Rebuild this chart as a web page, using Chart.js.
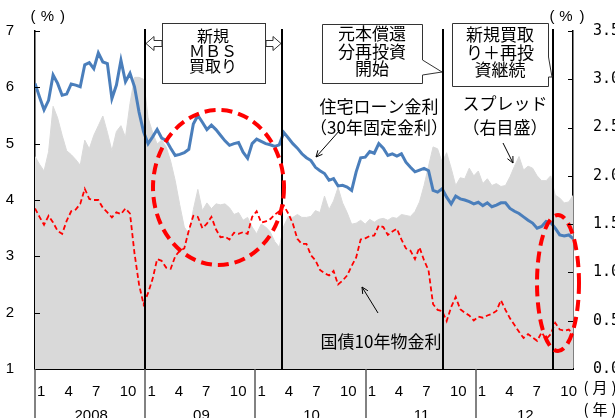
<!DOCTYPE html>
<html><head><meta charset="utf-8">
<script src="https://cdn.jsdelivr.net/npm/chart.js@4.4.1/dist/chart.umd.min.js"></script>
<style>html,body{margin:0;padding:0;background:#fff;}#wrap{width:615px;height:418px;position:relative;}</style>
</head><body><div id="wrap"><canvas id="c"></canvas></div>
<script>
// 住宅ローン金利（30年固定）, % (left axis), sampled every ~15 days from 2008-01
const mortgage = [
6.07,5.83,5.60,5.77,6.22,6.07,5.86,5.88,6.06,6.04,
6.01,6.40,6.44,6.33,6.61,6.45,6.42,5.80,6.04,6.48,
6.10,6.25,6.01,5.56,5.21,5.00,5.12,5.25,5.10,5.06,
4.92,4.79,4.81,4.84,4.90,5.35,5.50,5.38,5.25,5.33,
5.25,5.15,5.05,4.97,5.00,5.02,4.85,4.74,5.00,5.08,
5.04,5.00,4.98,4.95,4.98,5.20,5.10,5.00,4.92,4.82,
4.75,4.70,4.58,4.52,4.47,4.35,4.38,4.25,4.26,4.23,
4.17,4.50,4.75,4.76,4.86,4.83,5.00,4.92,4.79,4.82,
4.78,4.82,4.67,4.58,4.50,4.53,4.56,4.52,4.17,4.14,
4.20,4.05,3.93,4.07,4.02,4.00,3.97,3.93,3.96,3.90,
3.95,3.88,3.91,3.95,3.95,3.85,3.80,3.76,3.70,3.64,
3.59,3.50,3.53,3.62,3.60,3.50,3.38,3.36,3.38,3.31];
// 国債10年物金利, % (left axis)
const treasury10y = [
3.85,3.70,3.56,3.72,3.60,3.45,3.40,3.63,3.80,3.83,
3.93,4.20,4.02,4.00,4.00,3.86,3.78,3.69,3.78,3.75,
3.85,3.76,3.05,2.50,2.15,2.35,2.60,2.95,2.92,2.80,
2.78,3.00,3.10,3.14,3.46,3.72,3.70,3.50,3.58,3.70,
3.48,3.34,3.35,3.30,3.42,3.40,3.43,3.40,3.70,3.80,
3.60,3.62,3.66,3.74,3.80,3.90,3.76,3.58,3.31,3.22,
3.22,3.02,2.93,2.76,2.70,2.66,2.74,2.50,2.57,2.66,
2.83,2.98,3.30,3.32,3.36,3.37,3.55,3.52,3.38,3.44,
3.49,3.30,3.14,3.10,2.95,3.16,2.93,2.75,2.15,2.05,
2.03,1.85,2.10,2.28,2.06,2.00,1.95,1.86,1.93,1.91,
1.95,1.98,2.03,2.22,2.05,1.90,1.78,1.66,1.55,1.62,
1.56,1.50,1.65,1.53,1.62,1.82,1.70,1.68,1.70,1.62];
// スプレッド, % (right axis)
const spread = [
2.20,2.12,2.05,2.25,2.72,2.60,2.42,2.26,2.22,2.17,
2.11,2.37,2.28,2.42,2.52,2.62,2.45,2.26,2.46,2.52,
2.40,2.75,3.02,3.02,3.00,2.60,2.45,2.33,2.37,2.30,
2.15,1.95,1.70,1.47,1.40,1.65,1.86,1.64,1.72,1.66,
1.71,1.70,1.71,1.67,1.60,1.62,1.54,1.57,1.47,1.40,
1.50,1.47,1.42,1.32,1.26,1.48,1.58,1.57,1.60,1.57,
1.57,1.58,1.64,1.62,1.79,1.65,1.74,1.88,1.72,1.62,
1.50,1.51,1.54,1.50,1.55,1.52,1.55,1.56,1.54,1.57,
1.56,1.60,1.59,1.58,1.63,1.73,1.90,2.10,2.30,2.28,
2.14,2.24,2.08,1.90,1.98,1.97,2.08,2.00,2.05,1.92,
1.97,1.90,1.92,1.89,1.90,1.99,2.10,2.20,2.06,2.10,
2.08,2.00,1.95,1.95,2.00,1.80,1.77,1.72,1.73,1.80];

const startDate = [2008, 1, 1];
const stepDays = 15;
const endDate = [2012, 11, 19];
const years = [2008, 2009, 2010, 2011, 2012];
const yearLabels = ['2008', '09', '10', '11', '12'];
const tickMonths = [1, 4, 7, 10];
const monthLabels = ['1', '4', '7', '10'];
const eventDates = [[2009,1,1],[2010,3,31],[2011,9,15],[2012,9,13]];
const leftTicks = [1,2,3,4,5,6,7];
const rightTicks = [0,0.5,1,1.5,2,2.5,3,3.5];

const dayOf = (y,m,d) => (Date.UTC(y,m-1,d) - Date.UTC(startDate[0],startDate[1]-1,startDate[2])) / 864e5;
const xDays = mortgage.map((_, i) => i * stepDays);
const endDay = dayOf(...endDate);
const monthTicks = [];
years.forEach(y => tickMonths.forEach((m, k) => monthTicks.push({value: dayOf(y,m,1) + 7, label: monthLabels[k]})));
const pts = arr => arr.map((v, i) => ({x: xDays[i], y: v}));

const JP = '"Noto Sans CJK JP", "Noto Sans", sans-serif';
const NUM = '"Liberation Sans", Arial, sans-serif';

function arrowLine(ctx, x1, y1, x2, y2) {
  ctx.beginPath(); ctx.moveTo(x1, y1); ctx.lineTo(x2, y2); ctx.stroke();
  const ang = Math.atan2(y2 - y1, x2 - x1), L = 7;
  ctx.beginPath();
  ctx.moveTo(x2 - L*Math.cos(ang - 0.45), y2 - L*Math.sin(ang - 0.45));
  ctx.lineTo(x2, y2);
  ctx.lineTo(x2 - L*Math.cos(ang + 0.45), y2 - L*Math.sin(ang + 0.45));
  ctx.stroke();
}
function textLines(ctx, lines, cx, y0, dy, font) {
  ctx.font = font; ctx.fillStyle = '#000'; ctx.textAlign = 'center'; ctx.textBaseline = 'middle';
  lines.forEach((t, i) => ctx.fillText(t, cx, y0 + i*dy));
}
function spaced(ctx, glyphs, xs, y, font) {
  ctx.font = font; ctx.fillStyle = '#000'; ctx.textAlign = 'center'; ctx.textBaseline = 'middle';
  glyphs.forEach((g, i) => ctx.fillText(g, xs[i], y));
}

const deco = {
  id: 'deco',
  afterDatasetsDraw(chart) {
    const {ctx, chartArea: a, scales: {x}} = chart;
    ctx.save();
    // event lines
    ctx.strokeStyle = '#000'; ctx.lineWidth = 2;
    const evX = eventDates.map(d => Math.round(x.getPixelForValue(dayOf(...d))));
    evX.forEach(px => { ctx.beginPath(); ctx.moveTo(px, a.top - 2); ctx.lineTo(px, a.bottom); ctx.stroke(); });

    // red dashed ellipses
    ctx.strokeStyle = '#ff0000'; ctx.lineWidth = 4; ctx.setLineDash([11, 6]);
    ctx.beginPath(); ctx.ellipse(218.5, 187.5, 65.5, 77.5, 0, 0, Math.PI*2); ctx.stroke();
    ctx.beginPath(); ctx.ellipse(558, 283, 21, 68, 0, 0, Math.PI*2); ctx.stroke();
    ctx.setLineDash([]);

    // box 1 with double hollow arrows
    ctx.lineWidth = 1; ctx.strokeStyle = '#333'; ctx.fillStyle = '#fff';
    ctx.fillRect(162, 23, 103, 60); ctx.strokeRect(162.5, 23.5, 103, 60);
    const hollow = (tipX, baseX, cy) => {
      const dir = Math.sign(baseX - tipX), mid = tipX + dir*8;
      ctx.beginPath();
      ctx.moveTo(tipX, cy); ctx.lineTo(mid, cy - 7); ctx.lineTo(mid, cy - 3); ctx.lineTo(baseX, cy - 3);
      ctx.lineTo(baseX, cy + 3); ctx.lineTo(mid, cy + 3); ctx.lineTo(mid, cy + 7); ctx.closePath();
      ctx.fillStyle = '#fff'; ctx.fill(); ctx.stroke();
    };
    hollow(evX[0] + 1, 162, 43.5);
    hollow(evX[1] - 1, 266, 43.5);
    textLines(ctx, ['新規', 'ＭＢＳ', '買取り'], 213, 36, 15, '16px ' + JP);

    // callout boxes
    const callout = (x0, y0, w, h, wedge) => {
      ctx.beginPath();
      ctx.moveTo(x0, y0); ctx.lineTo(x0 + w, y0); ctx.lineTo(x0 + w, wedge[0][1]);
      ctx.lineTo(wedge[1][0], wedge[1][1]); ctx.lineTo(x0 + w, wedge[2][1]);
      ctx.lineTo(x0 + w, y0 + h); ctx.lineTo(x0, y0 + h); ctx.closePath();
      ctx.fillStyle = '#fff'; ctx.fill(); ctx.stroke();
    };
    callout(322.5, 24.5, 100, 59, [[0, 60], [evX[2] - 1, 72], [0, 75]]);
    textLines(ctx, ['元本償還', '分再投資', '開始'], 372, 34, 17.5, '17px ' + JP);
    callout(452.5, 23.5, 96, 63, [[0, 57], [evX[3] - 1, 77], [0, 77]]);
    textLines(ctx, ['新規買取', 'り＋再投', '資継続'], 500, 35, 17.5, '17px ' + JP);

    // series labels
    textLines(ctx, ['住宅ローン金利', '（30年固定金利）'], 379, 107, 21, '17px ' + JP);
    textLines(ctx, ['スプレッド', '（右目盛）'], 505, 104, 24, '17px ' + JP);
    textLines(ctx, ['国債10年物金利'], 381, 342, 0, '17px ' + JP);
    ctx.strokeStyle = '#000'; ctx.lineWidth = 1;
    arrowLine(ctx, 340, 130, 316, 157);
    arrowLine(ctx, 503, 143, 513, 163);
    arrowLine(ctx, 378, 313, 362, 287);
    ctx.restore();
  },
  afterDraw(chart) {
    const {ctx, chartArea: a, scales: {x, y, y2}} = chart;
    ctx.save();
    // inner tick marks
    ctx.strokeStyle = '#000'; ctx.lineWidth = 1;
    leftTicks.forEach(v => { const py = Math.round(y.getPixelForValue(v)) + 0.5; ctx.beginPath(); ctx.moveTo(a.left, py); ctx.lineTo(a.left + 5, py); ctx.stroke(); });
    rightTicks.forEach(v => { const py = Math.round(y2.getPixelForValue(v)) + 0.5; ctx.beginPath(); ctx.moveTo(a.right - 5, py); ctx.lineTo(a.right, py); ctx.stroke(); });
    // year separators and year labels
    ctx.strokeStyle = '#595959'; ctx.lineWidth = 1.5;
    const H = chart.height;
    years.forEach((yr, i) => {
      const s = dayOf(yr, 1, 1), e = Math.min(dayOf(yr + 1, 1, 1), endDay);
      const px = Math.round(x.getPixelForValue(s));
      ctx.beginPath(); ctx.moveTo(px, a.bottom); ctx.lineTo(px, H); ctx.stroke();
      ctx.font = '15px ' + NUM; ctx.fillStyle = '#000'; ctx.textAlign = 'center'; ctx.textBaseline = 'top';
      ctx.fillText(yearLabels[i], x.getPixelForValue((s + e) / 2) + 1, 408);
    });
    // units
    spaced(ctx, ['(', '%', ')'], [33, 47.5, 62.5], 17, '15px ' + NUM);
    spaced(ctx, ['(', '%', ')'], [552, 566, 582], 17, '15px ' + NUM);
    spaced(ctx, ['(', '月', ')'], [586, 600, 614], 387, '15px ' + JP);
    spaced(ctx, ['(', '年', ')'], [586, 600, 614], 409, '15px ' + JP);
    ctx.restore();
  }
};

new Chart(document.getElementById('c'), {
  type: 'line',
  data: {
    datasets: [
      {label: '住宅ローン金利', data: pts(mortgage), yAxisID: 'y', borderColor: '#4a7ebb', borderWidth: 3, pointRadius: 0, tension: 0, fill: false, order: 1},
      {label: '国債10年物金利', data: pts(treasury10y), yAxisID: 'y', borderColor: '#ff0000', borderWidth: 1.8, borderDash: [5, 3], pointRadius: 0, tension: 0, fill: false, order: 2},
      {label: 'スプレッド', data: pts(spread), yAxisID: 'y2', borderColor: '#d9d9d9', backgroundColor: '#d9d9d9', borderWidth: 1, pointRadius: 0, tension: 0, fill: 'start', order: 3}
    ]
  },
  options: {
    responsive: true, maintainAspectRatio: false, animation: false, devicePixelRatio: 1,
    layout: {padding: {top: 31, left: 0, right: 0, bottom: 0}},
    plugins: {legend: {display: false}, tooltip: {enabled: false}},
    scales: {
      x: {
        type: 'linear', min: 0, max: endDay,
        afterBuildTicks: s => { s.ticks = monthTicks.map(t => ({value: t.value})); },
        afterFit: s => { s.height = 49; },
        grid: {display: false},
        border: {display: true, color: '#000', width: 2},
        ticks: {autoSkip: false, maxRotation: 0, align: 'start', padding: 6, color: '#000',
          font: {family: '"Liberation Sans Narrow", "Liberation Sans", Arial', size: 15},
          callback: (v, i) => monthTicks[i].label}
      },
      y: {
        position: 'left', min: 1, max: 7,
        afterBuildTicks: s => { s.ticks = leftTicks.map(v => ({value: v})); },
        afterFit: s => { s.width = 35; },
        grid: {display: false},
        border: {display: true, color: '#000', width: 1.5},
        ticks: {padding: 13, color: '#000', font: {family: NUM, size: 15}, callback: v => String(v)}
      },
      y2: {
        position: 'right', min: 0, max: 3.5,
        afterBuildTicks: s => { s.ticks = rightTicks.map(v => ({value: v})); },
        afterFit: s => { s.width = 42; },
        grid: {display: false},
        border: {display: true, color: '#000', width: 1.5},
        ticks: {padding: 12, color: '#000', font: {family: '"DejaVu Sans Mono", monospace', size: 15}, callback: v => v.toFixed(1)}
      }
    }
  },
  plugins: [deco]
});
</script></body></html>
